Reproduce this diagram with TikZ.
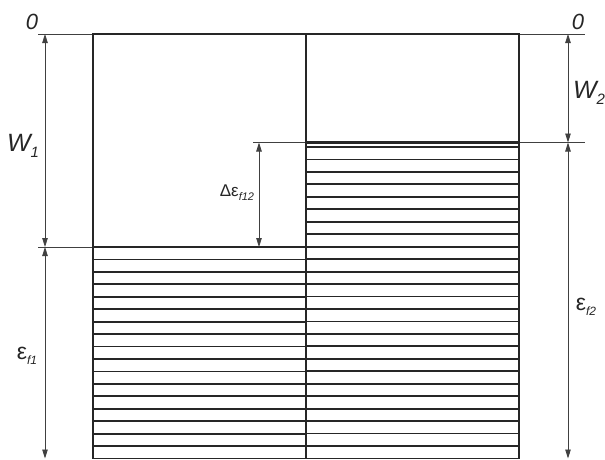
\documentclass[tikz,border=0pt]{standalone}
\usepackage{fontspec}
\setmainfont{Liberation Sans}
\usetikzlibrary{arrows.meta}
\begin{document}
\begin{tikzpicture}[x=1pt,y=-1pt,
  box/.style={line width=2.5pt, draw=black!85},
  hatch/.style={line width=1.8pt, draw=black!85},
  thinline/.style={line width=0.8pt, draw=black!75},
  dim/.style={thinline, {Triangle[length=9pt,width=5.5pt]}-{Triangle[length=9pt,width=5.5pt]}},
  lbl/.style={inner sep=0pt, text=black!85}]
\useasboundingbox (0,0) rectangle (605,459);
% coordinates
\coordinate (tl) at (93,34);
\coordinate (tm) at (306,34);
\coordinate (tr) at (519,34);
\coordinate (bl) at (93,458.5);
\coordinate (bm) at (306,458.5);
\coordinate (br) at (519,458.5);
\coordinate (l1) at (93,247);
\coordinate (m1) at (306,247);
\coordinate (m2) at (306,142.5);
\coordinate (r2) at (519,142.5);
% hatching
\foreach \i in {1,...,16}
  \draw[hatch] (93,{247+\i*211.5/17}) -- (306,{247+\i*211.5/17});
\foreach \i in {0,...,24}
  \draw[hatch] (306,{147+\i*311.5/25}) -- (519,{147+\i*311.5/25});
\draw[hatch] (bl) -- (br);
% extension lines
\draw[thinline] (38,34) -- (tl);
\draw[thinline] (tr) -- (585,34);
\draw[thinline] (38,247) -- (l1);
\draw[thinline] (253,142.5) -- (m2);
\draw[thinline] (r2) -- (585,142.5);
% box outline
\draw[box] (bl) -- (tl) -- (tr) -- (br);
\draw[box] (tm) -- (bm);
\draw[box] (l1) -- (m1);
\draw[box] (m2) -- (r2);
% dimension arrows
\coordinate (a0) at (45,34);
\coordinate (a1) at (45,247);
\coordinate (a2) at (45,458.5);
\coordinate (b0) at (568,34);
\coordinate (b1) at (568,142.5);
\coordinate (b2) at (568,458.5);
\coordinate (c0) at (259,142.5);
\coordinate (c1) at (259,247);
\draw[dim] (a0) -- (a1);
\draw[dim] (a1) -- (a2);
\draw[dim] (b0) -- (b1);
\draw[dim] (b1) -- (b2);
\draw[dim] (c0) -- (c1);
% labels
\node[lbl, font=\fontsize{22}{22}\selectfont\itshape] (zl) at (32,22) {0};
\node[lbl, font=\fontsize{22}{22}\selectfont\itshape] (zr) at (578,22) {0};
\node[lbl, font=\fontsize{25}{25}\selectfont\itshape] (w1) at (23,146) {W\raisebox{-0.45ex}{\fontsize{15}{15}\selectfont 1}};
\node[lbl, font=\fontsize{25}{25}\selectfont\itshape] (w2) at (589,93) {W\raisebox{-0.45ex}{\fontsize{15}{15}\selectfont 2}};
\node[lbl, font=\fontsize{17}{17}\selectfont] (de) at (237,193) {Δε\raisebox{-0.45ex}{\fontsize{11}{11}\selectfont\itshape f12}};
\node[lbl, font=\fontsize{23}{23}\selectfont] (e1) at (27,356) {ε\raisebox{-0.45ex}{\fontsize{12}{12}\selectfont\itshape f1}};
\node[lbl, font=\fontsize{23}{23}\selectfont] (e2) at (586,307) {ε\raisebox{-0.45ex}{\fontsize{12}{12}\selectfont\itshape f2}};
\end{tikzpicture}
\end{document}
